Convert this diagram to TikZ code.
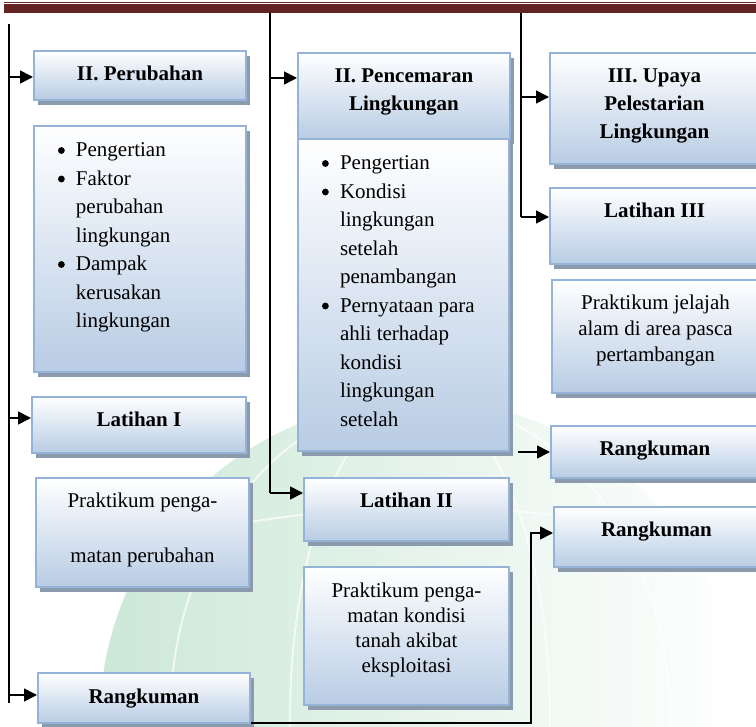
\documentclass[tikz,border=0pt]{standalone}
\usepackage{xcolor}
\usepackage{fontspec}
\setmainfont{Liberation Serif}
\usetikzlibrary{arrows.meta,shadows}

\definecolor{headred}{RGB}{99,36,35}
\definecolor{boxblue}{RGB}{184,204,228}
\definecolor{boxline}{RGB}{149,179,215}
\definecolor{boxshade}{RGB}{140,154,174}
\definecolor{globegreen}{RGB}{192,226,205}

\newcommand{\cbox}[3]{\parbox[c][#2][t]{#1}{\centering\rule{0pt}{30pt}#3}}
\newcommand{\lbox}[3]{\parbox[c][#2][t]{#1}{\raggedright\rule{0pt}{31pt}#3}}
\newcommand{\dotmark}{\tikz[baseline=-6.5pt]\fill (0,0) circle (3.4pt);}
\newcommand{\itm}{\hspace*{24pt}\makebox[18pt][l]{\dotmark}}
\newcommand{\cnt}{\hspace*{42pt}}

\begin{document}
\begin{tikzpicture}[x=1pt,y=-1pt,
  panel/.style={draw=boxline, line width=2pt, top color=white, bottom color=boxblue,
    inner sep=0pt, anchor=north west,
    drop shadow={shadow xshift=4pt, shadow yshift=-5pt, fill=boxshade, opacity=1}},
  head/.style={panel, font=\bfseries\fontsize{21}{28}\selectfont},
  body/.style={panel, font=\fontsize{21}{28.5}\selectfont},
  trunk/.style={line width=1.6pt},
  arr/.style={line width=1.6pt, -{Triangle[length=13pt,width=13pt]}}]
\useasboundingbox (0,0) rectangle (756,727);
\clip (0,0) rectangle (756,727);

%Globe watermark
\shade[left color=globegreen, right color=white, opacity=.8] (420,720) circle (320);
\begin{scope}
\clip (420,720) circle (320);
\draw[white, line width=2pt, opacity=.7] (420,720) ellipse (130 and 320);
\draw[white, line width=2pt, opacity=.7] (420,720) ellipse (250 and 320);
\draw[white, line width=2pt, opacity=.7] (100,560) .. controls (300,490) and (560,490) .. (740,560);
\end{scope}

%Header band
\fill[headred] (4,1.8) rectangle (760,2.8);
\fill[headred] (4,4) rectangle (760,13);

%Left column
\node[head] (perubahan) at (33,50) {\cbox{212pt}{49pt}{II. Perubahan}};
\node[body] (perubahanIsi) at (33,125) {\lbox{212pt}{246pt}{%
  \itm Pengertian\\ \itm Faktor\\ \cnt perubahan\\ \cnt lingkungan\\
  \itm Dampak\\ \cnt kerusakan\\ \cnt lingkungan}};
\node[head] (latihanI) at (31,396) {\cbox{214pt}{56pt}{Latihan I}};
\node[body] (praktikumI) at (35,477) {\cbox{213pt}{109pt}{Praktikum penga-\\[26.5pt]matan perubahan}};
\node[head] (rangkumanI) at (37,672) {\cbox{212pt}{50pt}{Rangkuman}};

%Middle column
\node[head] (pencemaran) at (297,52) {\cbox{212pt}{86pt}{II. Pencemaran\\ Lingkungan}};
\node[body] (pencemaranIsi) at (297,138) {\lbox{211pt}{312pt}{%
  \itm Pengertian\\ \itm Kondisi\\ \cnt lingkungan\\ \cnt setelah\\ \cnt penambangan\\
  \itm Pernyataan para\\ \cnt ahli terhadap\\ \cnt kondisi\\ \cnt lingkungan\\ \cnt setelah}};
\node[head] (latihanII) at (303,477) {\cbox{205pt}{63pt}{Latihan II}};
\node[body] (praktikumII) at (303,566) {\cbox{205pt}{138pt}{\fontsize{21}{25}\selectfont
  Praktikum penga-\\ matan kondisi\\ tanah akibat\\ eksploitasi}};

%Right column
\node[head] (upaya) at (549,52) {\cbox{209pt}{111pt}{III. Upaya\\ Pelestarian\\ Lingkungan}};
\node[head] (latihanIII) at (549,187) {\cbox{209pt}{76pt}{Latihan III}};
\node[body] (praktikumIII) at (551,279) {\cbox{207pt}{113pt}{\fontsize{21}{26}\selectfont
  Praktikum jelajah\\ alam di area pasca\\ pertambangan}};
\node[head] (rangkumanII) at (550,425) {\cbox{208pt}{52pt}{Rangkuman}};
\node[head] (rangkumanIII) at (553,506) {\cbox{205pt}{60pt}{Rangkuman}};

%Trunk lines
\coordinate (lTop) at (9,24);
\coordinate (lBot) at (9,703);
\coordinate (mTop) at (270,13);
\coordinate (mBot) at (270,493);
\coordinate (rTop) at (521,13);
\coordinate (rBot) at (521,217);
\draw[trunk] (lTop) -- (lBot);
\draw[trunk] (mTop) -- (mBot);
\draw[trunk] (rTop) -- (rBot);

%Arrows from trunks
\coordinate (l1) at (9,77);
\coordinate (l2) at (9,418);
\coordinate (l3) at (9,695);
\coordinate (m1) at (270,78);
\coordinate (r1) at (521,97);
\draw[arr] (l1) -- (l1 -| perubahan.west);
\draw[arr] (l2) -- (l2 -| latihanI.west);
\draw[arr] (l3) -- (l3 -| rangkumanI.west);
\draw[arr] (m1) -- (m1 -| pencemaran.west);
\draw[arr] (mBot) -- (mBot -| latihanII.west);
\draw[arr] (r1) -- (r1 -| upaya.west);
\draw[arr] (rBot) -- (rBot -| latihanIII.west);

%Free arrow and bottom link
\coordinate (f1) at (518,452);
\draw[arr] (f1) -- (f1 -| rangkumanII.west);
\coordinate (bend) at (531,533);
\draw[arr] ([yshift=1pt]rangkumanI.south east) -| (bend) -- (bend -| rangkumanIII.west);

\end{tikzpicture}
\end{document}
